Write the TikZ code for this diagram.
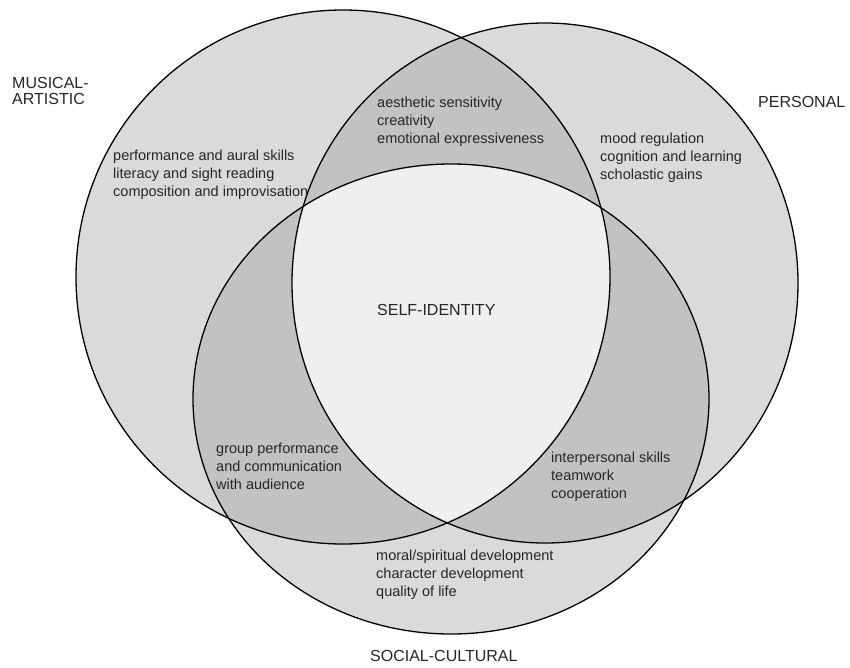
\documentclass[tikz,border=0pt]{standalone}
\usepackage{fontspec}
\setmainfont{Liberation Sans}
\usepackage{xcolor}
\usepackage{tikz}

\definecolor{oneset}{RGB}{218,218,218}
\definecolor{twoset}{RGB}{194,194,194}
\definecolor{coreset}{RGB}{239,239,239}

\begin{document}
\begin{tikzpicture}[x=1pt,y=-1pt,
	setlabel/.style={anchor=west,align=left,font=\fontsize{16}{16.5}\selectfont},
	itemlabel/.style={anchor=west,align=left,font=\fontsize{14.5}{18}\selectfont}]
	\tikzstyle{every node}+=[inner sep=0pt,text=black!85]
	\useasboundingbox (0,0) rectangle (850,667);
	\def\musical{(343,277) circle (267pt)}
	\def\personal{(545,283) ellipse [x radius=253pt, y radius=260pt]}
	\def\social{(451,399) ellipse [x radius=258pt, y radius=235pt]}
	\fill [oneset] \musical;
	\fill [oneset] \personal;
	\fill [oneset] \social;
	\begin{scope}
		\clip \musical;
		\fill [twoset] \personal;
		\fill [twoset] \social;
	\end{scope}
	\begin{scope}
		\clip \personal;
		\fill [twoset] \social;
	\end{scope}
	\begin{scope}
		\clip \musical;
		\clip \personal;
		\fill [coreset] \social;
	\end{scope}
	\draw [black,line width=1.3pt] \musical;
	\draw [black,line width=1.3pt] \personal;
	\draw [black,line width=1.3pt] \social;
	\node [setlabel] (musicallabel) at (12,91) {MUSICAL-\\ARTISTIC};
	\node [setlabel] (personallabel) at (758,102) {PERSONAL};
	\node [setlabel] (sociallabel) at (370,656) {SOCIAL-CULTURAL};
	\node [setlabel] (selflabel) at (377,310) {SELF-IDENTITY};
	\node [itemlabel] (skills) at (113,175) {performance and aural skills\\literacy and sight reading\\composition and improvisation};
	\node [itemlabel] (aesthetic) at (377,122) {aesthetic sensitivity\\creativity\\emotional expressiveness};
	\node [itemlabel] (mood) at (600,158) {mood regulation\\cognition and learning\\scholastic gains};
	\node [itemlabel] (group) at (216,466) {group performance\\and communication\\with audience};
	\node [itemlabel] (interpersonal) at (551,477) {interpersonal skills\\teamwork\\cooperation};
	\node [itemlabel] (moral) at (376,575) {moral/spiritual development\\character development\\quality of life};
\end{tikzpicture}
\end{document}
